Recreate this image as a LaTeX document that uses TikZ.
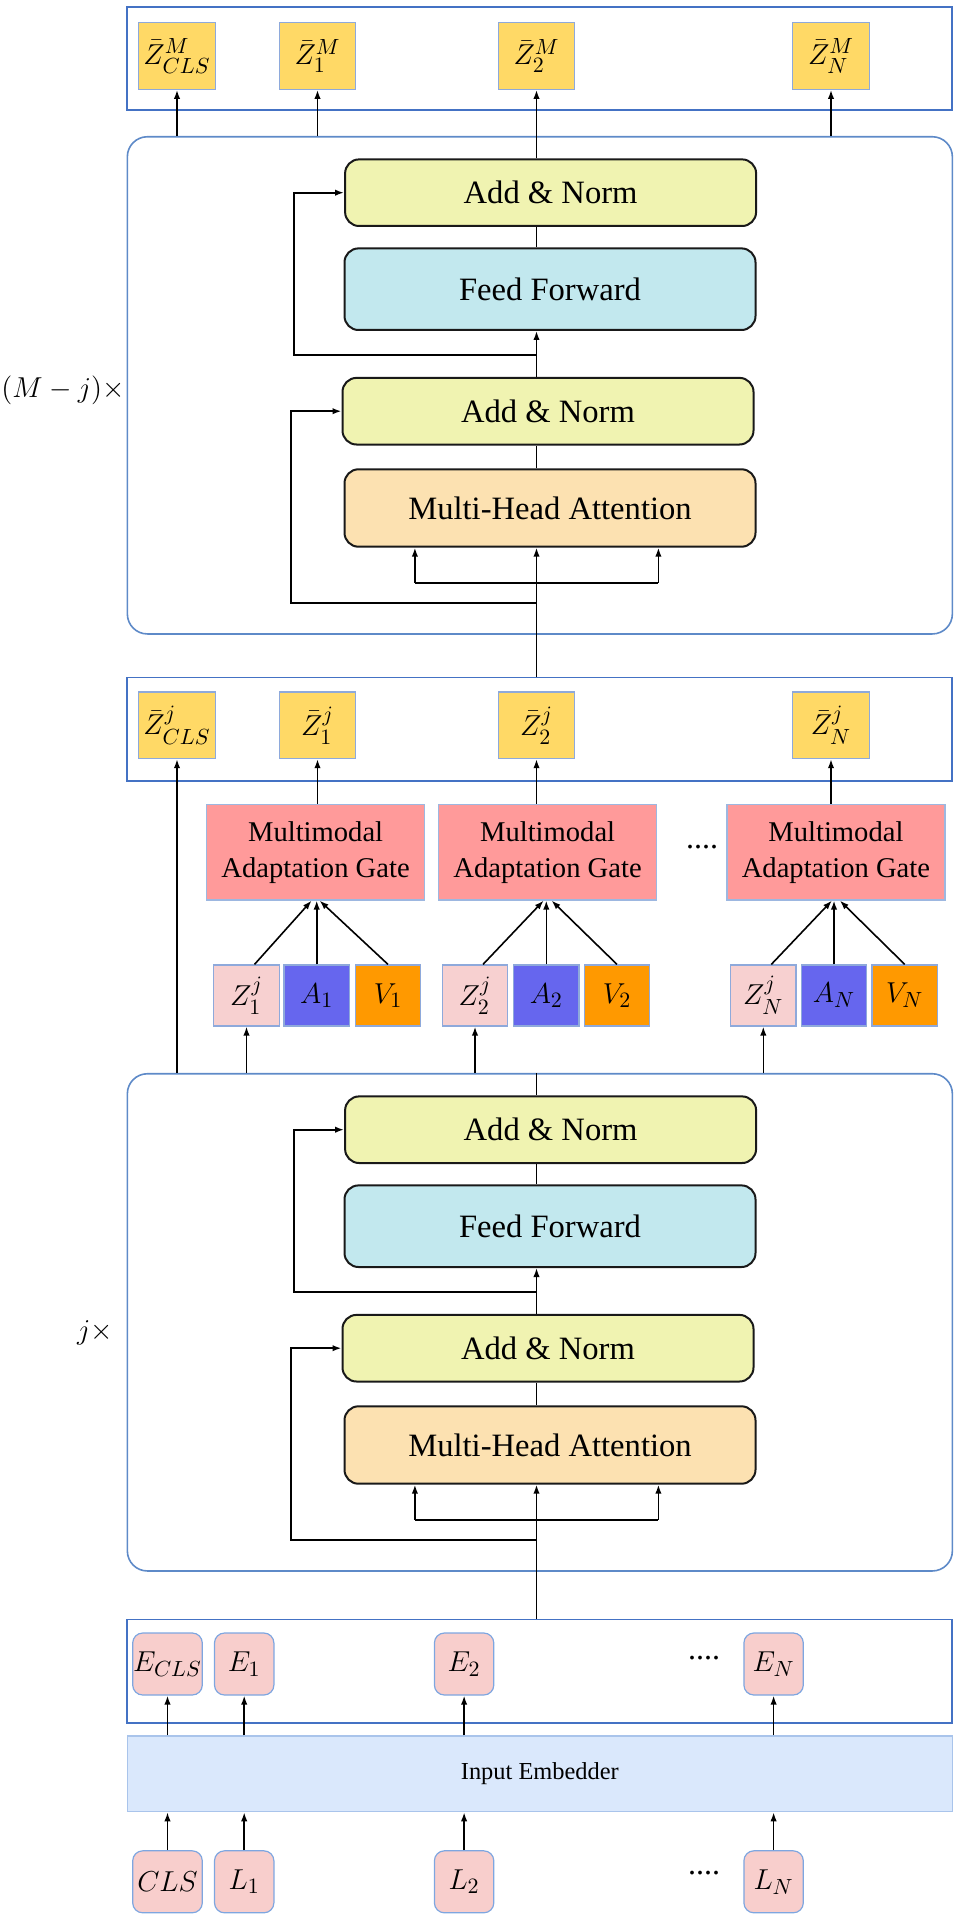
\documentclass[tikz,border=0pt]{standalone}
\usepackage{amsmath}
\usepackage{fontspec}
\setmainfont{Liberation Serif}
\usetikzlibrary{arrows.meta}

\definecolor{framecol}{HTML}{4472C4}
\definecolor{roundcol}{HTML}{5E8AC8}
\definecolor{zbarfill}{HTML}{FFD966}
\definecolor{zbardraw}{HTML}{8EA9DB}
\definecolor{addfill}{HTML}{F0F3B1}
\definecolor{fffill}{HTML}{C2E8EE}
\definecolor{mhafill}{HTML}{FCE1B1}
\definecolor{magfill}{HTML}{FF9A9A}
\definecolor{magdraw}{HTML}{9DB7E0}
\definecolor{zjfill}{HTML}{F7D0D0}
\definecolor{afill}{HTML}{6666EE}
\definecolor{vfill}{HTML}{FF9900}
\definecolor{efill}{HTML}{F8CECC}
\definecolor{edraw}{HTML}{7EA6E0}
\definecolor{embfill}{HTML}{DAE8FC}
\definecolor{embdraw}{HTML}{A9C4EB}

\tikzset{
  tokframe/.style={draw=framecol, line width=0.9pt, minimum width=412.5pt, minimum height=51.6pt, inner sep=0pt},
  encoder/.style={draw=roundcol, line width=0.8pt, rounded corners=10pt, minimum width=412.5pt, minimum height=248.6pt, inner sep=0pt},
  sublayer/.style={draw=black!90, line width=1pt, rounded corners=7pt, minimum width=205.5pt, inner sep=0pt, font=\fontsize{16.3}{19}\selectfont},
  addnorm/.style={sublayer, fill=addfill, minimum height=33.3pt},
  ffbox/.style={sublayer, fill=fffill, minimum height=40.8pt},
  mhabox/.style={sublayer, fill=mhafill, minimum height=38.7pt},
  zbar/.style={draw=zbardraw, line width=0.6pt, fill=zbarfill, minimum width=38.3pt, minimum height=33.3pt, inner sep=0pt, font=\fontsize{15.5}{18}\selectfont},
  gate/.style={draw=magdraw, line width=0.6pt, fill=magfill, minimum width=109pt, minimum height=47.8pt, align=center, inner sep=0pt, font=\fontsize{14.3}{18}\selectfont},
  modal/.style={draw=zbardraw, line width=0.6pt, minimum width=32.75pt, minimum height=30.5pt, inner sep=0pt, font=\fontsize{15.5}{18}\selectfont},
  token/.style={draw=edraw, line width=0.6pt, fill=efill, rounded corners=5pt, minimum width=29.7pt, minimum height=31pt, inner sep=0pt, font=\fontsize{15}{18}\selectfont},
  embed/.style={draw=embdraw, line width=0.6pt, fill=embfill, minimum width=412.5pt, minimum height=37.9pt, inner sep=0pt, font=\fontsize{12.2}{14}\selectfont},
  ellip/.style={inner sep=0pt, font=\fontsize{16}{18}\selectfont},
  arr/.style={-{Latex[length=4.5pt,width=3.2pt]}, line width=0.8pt},
  link/.style={line width=0.8pt},
}

\begin{document}
\begin{tikzpicture}[x=0.5pt, y=-0.5pt]
\useasboundingbox (0,0) rectangle (961,1920);

% output tokens after M layers
\node[tokframe] (outfr) at (539.85,58.75) {};
\node[zbar] (zmc) at (177,56) {$\bar{Z}^{M}_{CLS}$};
\node[zbar] (zm1) at (317.5,56) {$\bar{Z}^{M}_{1}$};
\node[zbar] (zm2) at (536.5,56) {$\bar{Z}^{M}_{2}$};
\node[zbar] (zmn) at (831,56) {$\bar{Z}^{M}_{N}$};

% upper encoder, (M-j) layers
\node[encoder] (encM) at (539.85,385.35) {};
\node[font=\fontsize{15}{18}\selectfont] (repM) at (63,390) {$(M-j)\times$};
\node[addnorm] (an2M) at (550.6,192.7) {Add \& Norm};
\node[ffbox] (ffM) at (550,289.2) {Feed Forward};
\node[addnorm] (an1M) at (548,411.2) {Add \& Norm};
\node[mhabox] (mhaM) at (550,508) {Multi-Head Attention};
\coordinate (brM) at (536.5,582.7);
\coordinate (qM) at (414.9,582.7);
\coordinate (vM) at (658.4,582.7);
\coordinate (axM) at (536.5,603.3);
\coordinate (r1M) at (291.2,603.3);
\coordinate (s2M) at (536.5,355);
\coordinate (t2M) at (294,355);

% tokens after j layers
\node[tokframe] (midfr) at (539.85,729) {};
\node[zbar] (zjc) at (177,725.3) {$\bar{Z}^{j}_{CLS}$};
\node[zbar] (zj1) at (317.5,725.3) {$\bar{Z}^{j}_{1}$};
\node[zbar] (zj2) at (536.5,725.3) {$\bar{Z}^{j}_{2}$};
\node[zbar] (zjn) at (831,725.3) {$\bar{Z}^{j}_{N}$};

% adaptation gates
\node[gate] (mag1) at (315.6,852.2) {Multimodal\\Adaptation Gate};
\node[gate] (mag2) at (547.6,852.2) {Multimodal\\Adaptation Gate};
\node[gate] (magn) at (835.9,852.2) {Multimodal\\Adaptation Gate};
\node[ellip] (dotsG) at (702,846.7) {....};

\node[modal, fill=zjfill] (zs1) at (246.5,995.5) {$Z^{j}_{1}$};
\node[modal, fill=afill] (a1) at (316.7,995.5) {$A_{1}$};
\node[modal, fill=vfill] (v1) at (388,995.5) {$V_{1}$};
\node[modal, fill=zjfill] (zs2) at (475,995.5) {$Z^{j}_{2}$};
\node[modal, fill=afill] (a2) at (546.3,995.5) {$A_{2}$};
\node[modal, fill=vfill] (v2) at (617,995.5) {$V_{2}$};
\node[modal, fill=zjfill] (zsn) at (763.3,995.5) {$Z^{j}_{N}$};
\node[modal, fill=afill] (an) at (834,995.5) {$A_{N}$};
\node[modal, fill=vfill] (vn) at (904.7,995.5) {$V_{N}$};

% lower encoder, j layers
\node[encoder] (encJ) at (539.85,1322.35) {};
\node[font=\fontsize{15}{18}\selectfont] (repJ) at (95,1333) {$j\times$};
\node[addnorm] (an2J) at (550.6,1129.7) {Add \& Norm};
\node[ffbox] (ffJ) at (550,1226.2) {Feed Forward};
\node[addnorm] (an1J) at (548,1348.2) {Add \& Norm};
\node[mhabox] (mhaJ) at (550,1445) {Multi-Head Attention};
\coordinate (brJ) at (536.5,1519.7);
\coordinate (qJ) at (414.9,1519.7);
\coordinate (vJ) at (658.4,1519.7);
\coordinate (axJ) at (536.5,1540.3);
\coordinate (r1J) at (291.2,1540.3);
\coordinate (s2J) at (536.5,1292);
\coordinate (t2J) at (294,1292);

% embeddings
\node[tokframe] (embfr) at (539.85,1671) {};
\node[token, minimum width=34.8pt] (ec) at (167.5,1664) {$E_{CLS}$};
\node[token] (e1) at (244.2,1664) {$E_{1}$};
\node[token] (e2) at (464.1,1664) {$E_{2}$};
\node[token] (en) at (773.6,1664) {$E_{N}$};
\node[ellip] (dotsE) at (704,1658.3) {....};
\node[embed] (emb) at (539.85,1773.8) {Input Embedder};
\node[token, minimum width=34.8pt] (lc) at (167.5,1881.8) {$CLS$};
\node[token] (l1) at (244.2,1881.8) {$L_{1}$};
\node[token] (l2) at (464.1,1881.8) {$L_{2}$};
\node[token] (ln) at (773.6,1881.8) {$L_{N}$};
\node[ellip] (dotsL) at (704,1873.3) {....};

% input side
\draw[arr] (lc) -- (lc |- emb.south);
\draw[arr] (l1) -- (l1 |- emb.south);
\draw[arr] (l2) -- (l2 |- emb.south);
\draw[arr] (ln) -- (ln |- emb.south);
\draw[arr] (ec |- emb.north) -- (ec.south);
\draw[arr] (e1 |- emb.north) -- (e1.south);
\draw[arr] (e2 |- emb.north) -- (e2.south);
\draw[arr] (en |- emb.north) -- (en.south);

% lower encoder wiring
\draw[arr] (embfr.north -| brJ) -- (mhaJ.south -| brJ);
\draw[link] (qJ) -- (vJ);
\draw[arr] (qJ) -- (qJ |- mhaJ.south);
\draw[arr] (vJ) -- (vJ |- mhaJ.south);
\draw[arr, line width=1pt] (axJ) -- (r1J) |- (an1J.west);
\draw[link] (mhaJ.north -| brJ) -- (an1J.south -| brJ);
\draw[arr] (an1J.north -| brJ) -- (ffJ.south -| brJ);
\draw[arr, line width=1pt] (s2J) -- (t2J) |- (an2J.west);
\draw[link] (ffJ.north -| brJ) -- (an2J.south -| brJ);
\draw[link] (an2J.north -| brJ) -- (encJ.north -| brJ);

% outputs of j layers
\draw[arr] (zjc |- encJ.north) -- (zjc.south);
\draw[arr] (zs1 |- encJ.north) -- (zs1.south);
\draw[arr] (zs2 |- encJ.north) -- (zs2.south);
\draw[arr] (zsn |- encJ.north) -- (zsn.south);

% gate inputs
\draw[arr] ([xshift=4pt]zs1.north) -- ([xshift=-2pt]mag1.south);
\draw[arr] (a1.north) -- (a1 |- mag1.south);
\draw[arr] (v1.north) -- ([xshift=2pt]mag1.south);
\draw[arr] ([xshift=4pt]zs2.north) -- ([xshift=-2pt]mag2.south);
\draw[arr] (a2.north) -- (a2 |- mag2.south);
\draw[arr] (v2.north) -- ([xshift=2pt]mag2.south);
\draw[arr] ([xshift=4pt]zsn.north) -- ([xshift=-2pt]magn.south);
\draw[arr] (an.north) -- (an |- magn.south);
\draw[arr] (vn.north) -- ([xshift=2pt]magn.south);
\draw[arr] (zj1 |- mag1.north) -- (zj1.south);
\draw[arr] (zj2 |- mag2.north) -- (zj2.south);
\draw[arr] (zjn |- magn.north) -- (zjn.south);

% upper encoder wiring
\draw[arr] (midfr.north -| brM) -- (mhaM.south -| brM);
\draw[link] (qM) -- (vM);
\draw[arr] (qM) -- (qM |- mhaM.south);
\draw[arr] (vM) -- (vM |- mhaM.south);
\draw[arr, line width=1pt] (axM) -- (r1M) |- (an1M.west);
\draw[link] (mhaM.north -| brM) -- (an1M.south -| brM);
\draw[arr] (an1M.north -| brM) -- (ffM.south -| brM);
\draw[arr, line width=1pt] (s2M) -- (t2M) |- (an2M.west);
\draw[link] (ffM.north -| brM) -- (an2M.south -| brM);
\draw[arr] (an2M.north -| brM) -- (zm2.south);

% outputs of M layers
\draw[arr] (zmc |- encM.north) -- (zmc.south);
\draw[arr] (zm1 |- encM.north) -- (zm1.south);
\draw[arr] (zmn |- encM.north) -- (zmn.south);
\end{tikzpicture}
\end{document}
